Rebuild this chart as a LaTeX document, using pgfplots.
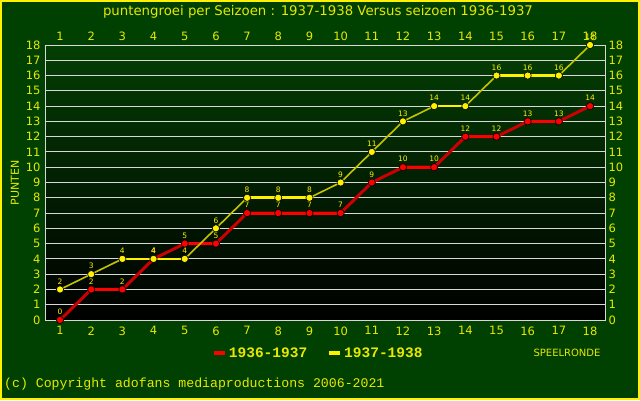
\documentclass[border=0pt]{standalone}
\usepackage{pgfplots}
\pgfplotsset{compat=1.18}
\usepackage{fontspec}
\setmainfont{DejaVu Sans}
\newfontfamily\monof{Liberation Mono}
\newfontfamily\monob{Liberation Mono Bold}
\definecolor{bg}{HTML}{004000}
\definecolor{ty}{HTML}{E8E800}
\definecolor{gridc}{HTML}{D8D8D8}
\definecolor{redlo}{HTML}{CC0000}
\definecolor{yello}{HTML}{C4C400}
\definecolor{plottop}{HTML}{043E04}
\begin{document}
\begin{tikzpicture}[x=1pt,y=1pt]
\fill[bg] (0,0) rectangle (640,400);
\draw[yellow, line width=2pt] (1,1) rectangle (639,399);
\node[text=ty, font=\fontsize{13.3}{15}\selectfont] at (318,388) {puntengroei per Seizoen : 1937-1938 Versus seizoen 1936-1937};
\node[text=ty, font=\fontsize{11}{12}\selectfont, rotate=90] at (15,217) {PUNTEN};
\node[text=ty, font=\fontsize{10}{12}\selectfont] at (567,47) {SPEELRONDE};
\node[text=ty, font=\monof\fontsize{13.2}{14}\selectfont, anchor=west, inner sep=0pt] at (4,16) {(c) Copyright adofans mediaproductions 2006-2021};
\begin{axis}[
  at={(46pt,80pt)}, anchor=south west, scale only axis,
  width=559pt, height=275pt,
  xmin=0.55, xmax=18.48, ymin=0, ymax=18,
  xtick={1,...,18}, ytick={0,...,18},
  major tick length=0,
  ymajorgrids, grid style={color=gridc, line width=1pt},
  axis line style={color=gridc, line width=1pt},
  tick label style={text=ty, font=\fontsize{11.5}{12}\selectfont},
  xticklabel style={yshift=-3pt},
  yticklabel style={xshift=-2pt},
  /pgf/number format/assume math mode=true,
  axis background/.style={top color=plottop, bottom color=black},
  clip=false,
  unbounded coords=jump,
  legend style={at={(0.487,-0.12)}, anchor=center, draw=none, fill=none,
    legend columns=2, text=ty,
    /tikz/every even column/.append style={column sep=18pt}},
  legend image code/.code={\draw[#1] (0pt,0pt) -- (11pt,0pt);},
  every node near coord/.append style={font=\fontsize{7.5}{8}\selectfont, text=yellow, yshift=1.5pt},
]
\addlegendimage{color=red, line width=4pt}
\addlegendentry{\monob\fontsize{14.5}{16}\selectfont 1936-1937}
\addlegendimage{color=yellow, line width=4pt}
\addlegendentry{\monob\fontsize{14.5}{16}\selectfont 1937-1938}
% 1936-1937 red
\addplot[redlo, line width=3pt, forget plot] coordinates {
(1,0)(2,2)(3,2)(4,4)(5,5)(6,5)(7,7)(8,7)(9,7)(10,7)(11,9)(12,10)(13,10)(14,12)(15,12)(16,13)(17,13)(18,14)};
\addplot[red, line width=3pt, forget plot] coordinates {
(2,2)(3,2) (3.5,nan) (5,5)(6,5) (6.5,nan) (7,7)(8,7)(9,7)(10,7) (10.5,nan) (12,10)(13,10) (13.5,nan) (14,12)(15,12) (15.5,nan) (16,13)(17,13)};
\addplot[only marks, mark=*, mark size=3.6pt, mark options={fill=red, draw=black, line width=0.6pt}, nodes near coords, forget plot] coordinates {
(1,0)(2,2)(3,2)(4,4)(5,5)(6,5)(7,7)(8,7)(9,7)(10,7)(11,9)(12,10)(13,10)(14,12)(15,12)(16,13)(17,13)(18,14)};
% 1937-1938 yellow
\addplot[yello, line width=1.6pt, forget plot] coordinates {
(1,2)(2,3)(3,4)(4,4)(5,4)(6,6)(7,8)(8,8)(9,8)(10,9)(11,11)(12,13)(13,14)(14,14)(15,16)(16,16)(17,16)(18,18)};
\addplot[yellow, line width=2.6pt, forget plot] coordinates {
(3,4)(4,4)(5,4) (5.5,nan) (7,8)(8,8)(9,8) (9.5,nan) (13,14)(14,14) (14.5,nan) (15,16)(16,16)(17,16)};
\addplot[only marks, mark=*, mark size=3.6pt, mark options={fill=yellow, draw=black, line width=0.6pt}, nodes near coords, forget plot] coordinates {
(1,2)(2,3)(3,4)(4,4)(5,4)(6,6)(7,8)(8,8)(9,8)(10,9)(11,11)(12,13)(13,14)(14,14)(15,16)(16,16)(17,16)(18,18)};
\end{axis}
\begin{axis}[
  at={(46pt,80pt)}, anchor=south west, scale only axis,
  width=559pt, height=275pt,
  xmin=0.55, xmax=18.48, ymin=0, ymax=18,
  xtick={1,...,18}, ytick={0,...,18},
  major tick length=0,
  axis line style={draw=none},
  xticklabel pos=upper, yticklabel pos=right,
  tick label style={text=ty, font=\fontsize{11.5}{12}\selectfont},
  xticklabel style={yshift=1pt},
  yticklabel style={xshift=0pt},
  /pgf/number format/assume math mode=true,
]
\end{axis}
\end{tikzpicture}
\end{document}
